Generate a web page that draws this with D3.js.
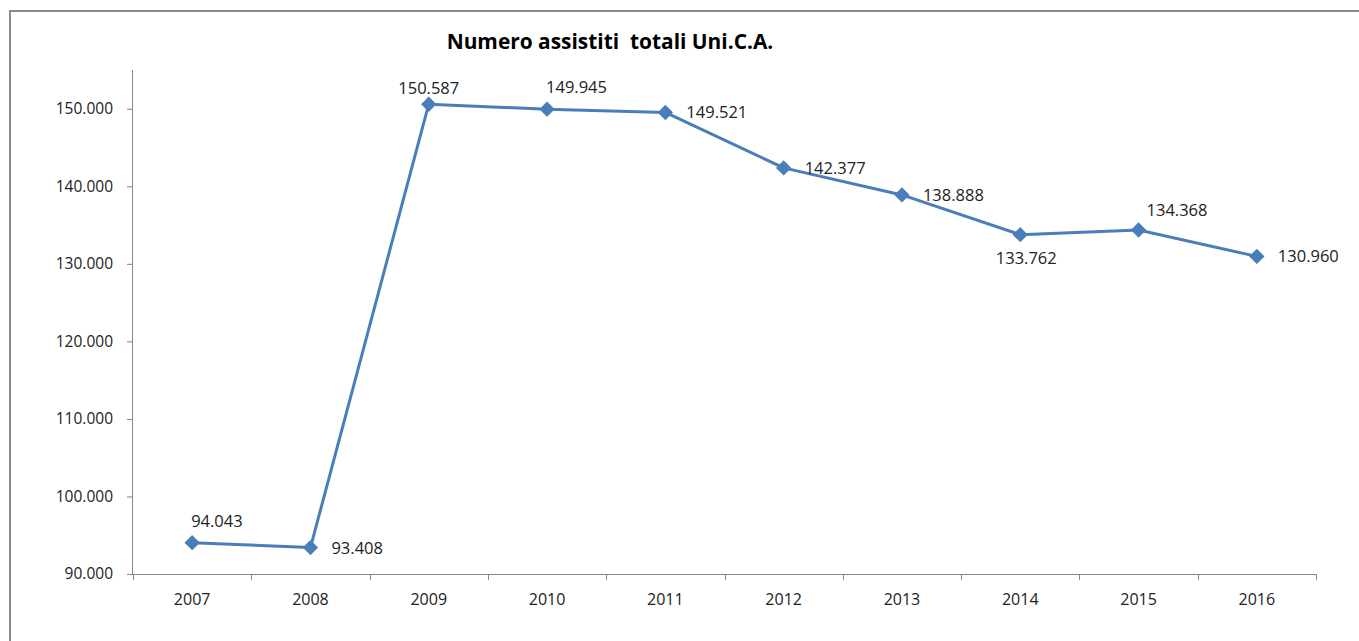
<!DOCTYPE html>
<html><head><meta charset="utf-8">
<script src="https://cdn.jsdelivr.net/npm/d3@7"></script>
<style>body{margin:0;background:#fff}svg{display:block}text{font-family:"Open Sans",sans-serif}</style>
</head><body><svg id="c" width="1359" height="641"></svg>
<script>
const years = ["2007","2008","2009","2010","2011","2012","2013","2014","2015","2016"];
const values = [94043,93408,150587,149945,149521,142377,138888,133762,134368,130960];
const labels = ["94.043","93.408","150.587","149.945","149.521","142.377","138.888","133.762","134.368","130.960"];
const yTicks = [90000,100000,110000,120000,130000,140000,150000];
const labelPlace = ["aboveRight","right","above","aboveRight","right","right","right","below","aboveRight","right"];

const svg = d3.select("#c");
const m = {l:133, r:1316, t:70, b:574};
const x = d3.scaleBand().domain(years).range([m.l, m.r]);
const y = d3.scaleLinear().domain([90000,155000]).range([m.b, m.t]);
const FONT = "'Open Sans',sans-serif";

// border
svg.append("path").attr("d","M10,641 V11 H1359").attr("fill","none").attr("stroke","#8a8a8a").attr("stroke-width",2);

// title
svg.append("text").attr("x",610).attr("y",49).attr("text-anchor","middle")
  .attr("font-size",20.9).attr("font-weight","bold").attr("fill","#000")
  .attr("xml:space","preserve").text("Numero assistiti  totali Uni.C.A.");

const fmt = v => d3.format(",.0f")(v).replace(/,/g,".");
// y axis
const ya = svg.append("g").attr("transform",`translate(${m.l},0)`)
  .call(d3.axisLeft(y).tickValues(yTicks).tickFormat(fmt).tickSize(6).tickPadding(14));
ya.select(".domain").attr("stroke","#868686").attr("d",`M-0.5,${m.t}V${m.b}`);
ya.selectAll(".tick line").attr("stroke","#868686");
ya.selectAll("text").attr("font-size",15.5).attr("fill","#222").attr("font-family",FONT);

// x axis
const xa = svg.append("g").attr("transform",`translate(0,${m.b})`);
xa.append("line").attr("x1",m.l).attr("x2",m.r).attr("y1",0.5).attr("y2",0.5).attr("stroke","#868686");
const edges = years.map(d=>x(d)).concat([x(years[years.length-1])+x.bandwidth()]);
xa.selectAll("line.t").data(edges).join("line").attr("class","t")
  .attr("x1",d=>Math.round(d)+0.5).attr("x2",d=>Math.round(d)+0.5).attr("y1",0).attr("y2",6).attr("stroke","#868686");
xa.selectAll("text").data(years).join("text")
  .attr("x",d=>x(d)+x.bandwidth()/2).attr("y",31).attr("text-anchor","middle")
  .attr("font-size",16).attr("fill","#222").text(d=>d);

// line
const cx = (d,i)=>x(years[i])+x.bandwidth()/2;
const line = d3.line().x(cx).y(d=>y(d));
svg.append("path").datum(values).attr("d",line).attr("fill","none")
  .attr("stroke","#4a7ebb").attr("stroke-width",3).attr("stroke-linejoin","round");

svg.selectAll("path.mk").data(values).join("path").attr("class","mk")
  .attr("transform",(d,i)=>`translate(${cx(d,i)},${y(d)})`)
  .attr("d",d3.symbol().type(d3.symbolDiamond2).size(150)).attr("fill","#4a7ebb");

// data labels
svg.selectAll("text.dl").data(values).join("text").attr("class","dl")
  .attr("font-size",16.5).attr("fill","#222")
  .each(function(d,i){
    const px = cx(d,i), py = y(d), p = labelPlace[i];
    const t = d3.select(this);
    if(p==="right"){ t.attr("x",px+21).attr("y",py+6).attr("text-anchor","start"); }
    else if(p==="above"){ t.attr("x",px).attr("y",py-10).attr("text-anchor","middle"); }
    else if(p==="aboveRight"){ t.attr("x",px+(i===8?8:-1)).attr("y",py-(i===8?14:16)).attr("text-anchor","start"); }
    else if(p==="below"){ t.attr("x",px+6).attr("y",py+29).attr("text-anchor","middle"); }
  })
  .text((d,i)=>labels[i]);
</script></body></html>
